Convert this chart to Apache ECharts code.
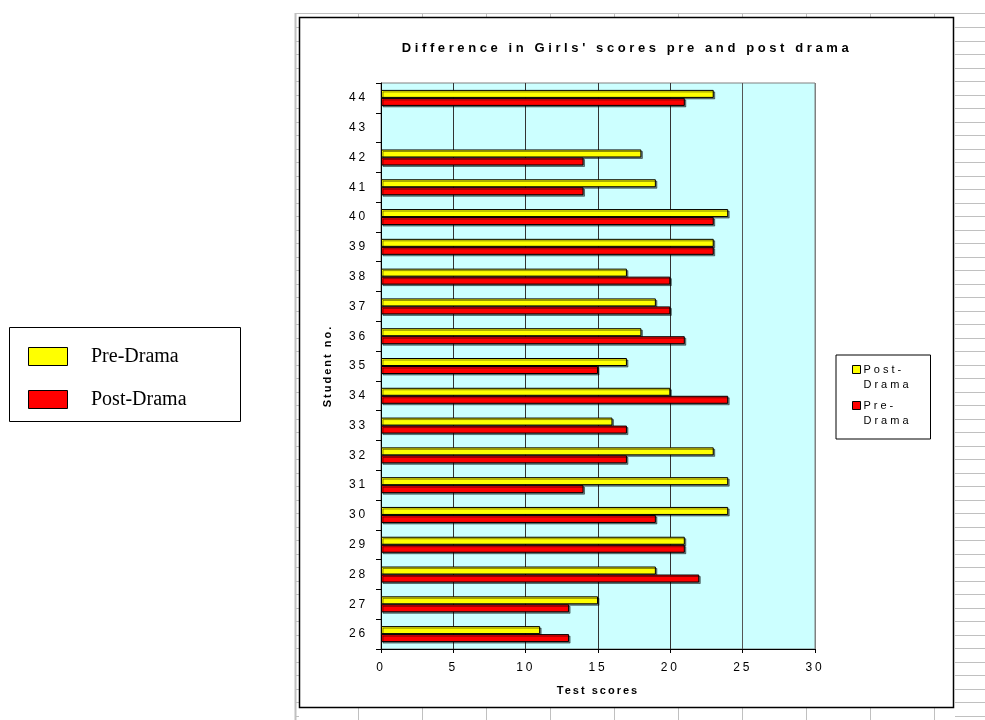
<!DOCTYPE html>
<html><head><meta charset="utf-8">
<script src="https://cdn.jsdelivr.net/npm/echarts@6/dist/echarts.min.js"></script>
<style>html,body{margin:0;padding:0;background:#fff}#c{width:985px;height:720px}</style>
</head><body><div id="c"></div>
<script>
// Data
const categories = ['26','27','28','29','30','31','32','33','34','35','36','37','38','39','40','41','42','43','44'];
const postDrama = [11,15,19,21,24,24,23,16,20,17,18,19,17,23,24,19,18,null,23];
const preDrama  = [13,13,22,21,19,14,17,17,24,15,21,20,20,23,23,14,14,null,21];
const seriesNames = ['Post-Drama','Pre-Drama'];
const leftLegendLabels = ['Pre-Drama','Post-Drama'];
const xTicks = {min:0, max:30, interval:5};
const titleText = "Difference in Girls' scores pre and post drama";

// Excel-like letter spacing for sans text
(function(){
  const proto = window.CanvasRenderingContext2D && CanvasRenderingContext2D.prototype;
  if (!proto || !('letterSpacing' in proto)) return;
  const d = Object.getOwnPropertyDescriptor(proto, 'font');
  if (!d) return;
  Object.defineProperty(proto, 'font', {
    configurable: true,
    get(){ return d.get.call(this); },
    set(v){
      d.set.call(this, v);
      let sp = 0;
      if (/Liberation Sans/.test(v)) {
        const m = /(\d+(?:\.\d+)?)px/.exec(v);
        const size = m ? parseFloat(m[1]) : 12;
        const bold = /bold/.test(v);
        if (bold && size >= 13) sp = 3.6;
        else if (bold) sp = 2.0;
        else if (size >= 12) sp = 2.8;
        else sp = 3.0;
      }
      this.letterSpacing = sp + 'px';
    }
  });
})();

const SANS = 'Liberation Sans';
const mctx = document.createElement('canvas').getContext('2d');
mctx.font = 'normal bold 13px ' + SANS;
const titleW = mctx.measureText(titleText).width;

// Spreadsheet frame decoration
const gridGray = '#c0c0c0';
const graphics = [];
function ln(x1,y1,x2,y2,c,w){ graphics.push({type:'line', silent:true, shape:{x1,y1,x2,y2}, style:{stroke:c, lineWidth:w||1}}); }
ln(295.5,13,295.5,720,gridGray,2);
ln(295,13.5,985,13.5,gridGray,1);
for (let y = 27; y < 720; y += 13.5) {
  ln(296,Math.round(y)+0.5,299,Math.round(y)+0.5,gridGray,1);
  ln(955,Math.round(y)+0.5,985,Math.round(y)+0.5,gridGray,1);
}
for (let x = 358; x < 985; x += 64) {
  ln(x+0.5,13,x+0.5,17,gridGray,1);
  ln(x+0.5,708,x+0.5,720,gridGray,1);
}
graphics.push({type:'rect', silent:true, shape:{x:299.5,y:17.5,width:654,height:690}, style:{fill:null, stroke:'#000', lineWidth:1.5}});
// left legend box
graphics.push({type:'rect', silent:true, shape:{x:9.5,y:327.5,width:231,height:94}, style:{fill:'#fff', stroke:'#000', lineWidth:1}});
const leftColors = ['#FFFF00','#FF0000'];
leftLegendLabels.forEach((lab,i)=>{
  const cy = 357 + i*43;
  graphics.push({type:'rect', silent:true, shape:{x:28.5,y:cy-9.5,width:39,height:18}, style:{fill:leftColors[i], stroke:'#000', lineWidth:1}});
  graphics.push({type:'text', silent:true, x:91, y:cy, style:{text:lab, fill:'#000', font:'20px "Liberation Serif"', textVerticalAlign:'middle', textAlign:'left'}});
});

const chart = echarts.init(document.getElementById('c'));
const barStyle = (color) => ({color, borderColor:'#000', borderWidth:1, shadowColor:'rgba(0,0,0,0.45)', shadowBlur:0, shadowOffsetX:1.5, shadowOffsetY:1.5});
chart.setOption({
  animation:false,
  backgroundColor:'#fff',
  title:{text:titleText, left:627 - titleW/2, top:40, padding:0,
    textStyle:{fontFamily:SANS, fontSize:13, fontWeight:'bold', color:'#000'}},
  legend:{
    data:seriesNames, orient:'vertical', left:836, top:355,
    padding:[7,19,10,16], itemGap:5, itemWidth:8, itemHeight:30,
    icon:'path://M0,0M0,3L8,3L8,11L0,11ZM8,30',
    borderColor:'#000', borderWidth:1, backgroundColor:'#fff',
    itemStyle:{borderColor:'#000', borderWidth:1, shadowBlur:0, shadowOffsetX:0, shadowOffsetY:0, shadowColor:'rgba(0,0,0,0)'},
    formatter: n => n.replace('-', '-\n'),
    textStyle:{fontFamily:SANS, fontSize:11, color:'#000', lineHeight:15, padding:[0,0,0,-2]}
  },
  grid:{left:381, top:83, width:434, height:566, show:true, backgroundColor:'#CCFFFF', borderColor:'#808080', borderWidth:1},
  xAxis:{type:'value', min:xTicks.min, max:xTicks.max, interval:xTicks.interval,
    name:'Test scores', nameLocation:'middle', nameGap:35,
    nameTextStyle:{fontFamily:SANS, fontSize:11, fontWeight:'bold', color:'#000'},
    axisLine:{show:true, lineStyle:{color:'#000', width:1}},
    axisTick:{show:true, length:4, lineStyle:{color:'#000'}},
    axisLabel:{fontFamily:SANS, fontSize:12, color:'#000', margin:11},
    splitLine:{show:true, lineStyle:{color:['#000','#333','#333','#333','#333','#555','#808080'], width:1}}
  },
  yAxis:{type:'category', data:categories,
    name:'Student no.', nameLocation:'middle', nameGap:47, nameRotate:90,
    nameTextStyle:{fontFamily:SANS, fontSize:11, fontWeight:'bold', color:'#000'},
    axisLine:{show:true, lineStyle:{color:'#000', width:1}},
    axisTick:{show:true, length:5, lineStyle:{color:'#000'}},
    axisLabel:{fontFamily:SANS, fontSize:12, color:'#000', margin:13},
    splitLine:{show:false}
  },
  series:[
    {name:seriesNames[0], type:'bar', data:postDrama, barWidth:8, barGap:'0%', itemStyle:barStyle('#FFFF00')},
    {name:seriesNames[1], type:'bar', data:preDrama, barWidth:8, barGap:'0%', itemStyle:barStyle('#FF0000')}
  ],
  graphic:{elements:graphics}
});
</script></body></html>
